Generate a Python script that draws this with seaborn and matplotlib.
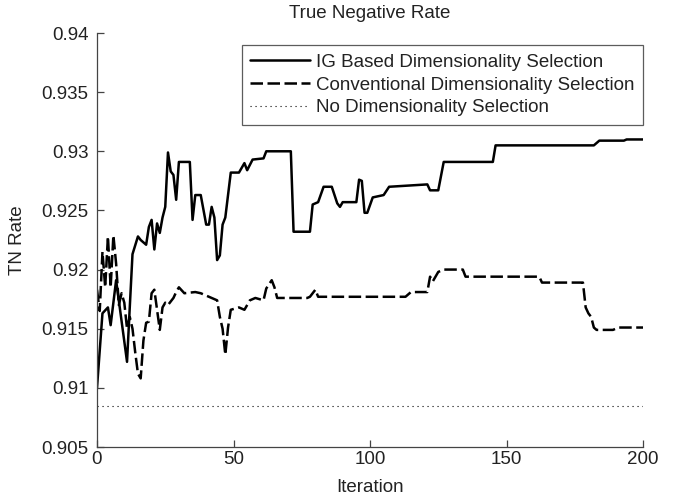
import numpy as np
import pandas as pd
import matplotlib
matplotlib.use("Agg")
import matplotlib.pyplot as plt
import seaborn as sns

# ---- data ----
ig_iter = [0, 2, 4, 5, 7, 11, 12, 13, 15, 16, 18, 19, 20, 21, 22, 23, 24, 25, 26, 27,
           28, 29, 30, 34, 35, 36, 38, 40, 41, 42, 43, 44, 45, 46, 47, 49, 52, 54, 55, 57,
           61, 62, 71, 72, 78, 79, 81, 83, 86, 88, 89, 90, 95, 96, 97, 98, 99, 101, 105, 107,
           121, 122, 125, 127, 145, 146, 182, 184, 193, 194, 200]
ig_rate = [0.9100, 0.9163, 0.9168, 0.9153, 0.9191, 0.9122, 0.9168, 0.9213, 0.9228, 0.9225,
           0.9221, 0.9236, 0.9242, 0.9217, 0.9239, 0.9231, 0.9244, 0.9253, 0.9299, 0.9283,
           0.9280, 0.9259, 0.9291, 0.9291, 0.9242, 0.9263, 0.9263, 0.9238, 0.9238, 0.9253,
           0.9244, 0.9208, 0.9212, 0.9238, 0.9244, 0.9282, 0.9282, 0.9290, 0.9284, 0.9293,
           0.9294, 0.9300, 0.9300, 0.9232, 0.9232, 0.9255, 0.9257, 0.9270, 0.9270, 0.9256,
           0.9253, 0.9257, 0.9257, 0.9276, 0.9275, 0.9248, 0.9248, 0.9261, 0.9263, 0.9270,
           0.9272, 0.9267, 0.9267, 0.9291, 0.9291, 0.9305, 0.9305, 0.9309, 0.9309, 0.9310,
           0.9310]

conv_iter = [0, 1, 2, 3, 4, 5, 6, 7, 8, 9, 10, 11, 12, 13, 14, 15, 16, 17, 18, 19,
             20, 21, 22, 23, 24, 25, 26, 28, 29, 30, 32, 36, 38, 41, 44, 45, 46, 47, 48, 49,
             52, 54, 56, 58, 61, 62, 64, 65, 66, 77, 78, 80, 81, 113, 115, 121, 122, 123, 125, 127,
             134, 135, 162, 163, 178, 179, 180, 181, 182, 183, 189, 191, 200]
conv_rate = [0.9183, 0.9165, 0.9215, 0.9185, 0.9228, 0.9185, 0.9229, 0.9205, 0.9170, 0.9180,
             0.9172, 0.9150, 0.9160, 0.9150, 0.9130, 0.9112, 0.9108, 0.9140, 0.9155, 0.9156,
             0.9180, 0.9183, 0.9166, 0.9149, 0.9168, 0.9172, 0.9170, 0.9176, 0.9181, 0.9185,
             0.9180, 0.9181, 0.9180, 0.9177, 0.9174, 0.9160, 0.9150, 0.9128, 0.9151, 0.9166,
             0.9168, 0.9166, 0.9174, 0.9176, 0.9174, 0.9184, 0.9191, 0.9185, 0.9176, 0.9176,
             0.9177, 0.9183, 0.9177, 0.9177, 0.9181, 0.9181, 0.9194, 0.9190, 0.9198, 0.9200,
             0.9200, 0.9194, 0.9194, 0.9189, 0.9189, 0.9168, 0.9163, 0.9160, 0.9151, 0.9149,
             0.9149, 0.9151, 0.9151]

none_iter = [0, 200]
none_rate = [0.9085, 0.9085]

series_names = ["IG Based Dimensionality Selection",
                "Conventional Dimensionality Selection",
                "No Dimensionality Selection"]
x_ticks = [0, 50, 100, 150, 200]
y_ticks = [0.905, 0.91, 0.915, 0.92, 0.925, 0.93, 0.935, 0.94]
y_tick_labels = ["0.905", "0.91", "0.915", "0.92", "0.925", "0.93", "0.935", "0.94"]

# ---- plot ----
sns.set_theme(style="white")
plt.rcParams["font.family"] = ["Liberation Sans", "DejaVu Sans"]

FS = 13.5
fig = plt.figure(figsize=(6.81, 5.0), dpi=100)
ax = fig.add_axes([97 / 681, 53 / 500, 546 / 681, 414 / 500])

sns.lineplot(x=ig_iter, y=ig_rate, ax=ax, color="black", linewidth=1.8,
             label=series_names[0], sort=False)
sns.lineplot(x=conv_iter, y=conv_rate, ax=ax, color="black", linewidth=1.8,
             label=series_names[1], sort=False)
ax.lines[-1].set_dashes([5.0, 1.8])
sns.lineplot(x=none_iter, y=none_rate, ax=ax, color="black", linewidth=0.8,
             label=series_names[2], sort=False)
ax.lines[-1].set_dashes([1.0, 3.5])

ax.set_xlim(0, 200)
ax.set_ylim(0.905, 0.94)
ax.set_xticks(x_ticks)
ax.set_xticklabels([str(t) for t in x_ticks])
ax.set_yticks(y_ticks)
ax.set_yticklabels(y_tick_labels)

for side in ["top", "right"]:
    ax.spines[side].set_visible(False)
for side in ["left", "bottom"]:
    ax.spines[side].set_color("#444444")
    ax.spines[side].set_linewidth(0.9)

ax.tick_params(axis="both", direction="in", length=5, width=0.9, color="#444444",
               labelsize=FS, labelcolor="#222222", left=True, bottom=True)
ax.tick_params(axis="y", pad=6)
ax.tick_params(axis="x", pad=3)

ax.set_title("True Negative Rate", fontsize=FS, color="#222222", pad=11)
ax.set_xlabel("Iteration", fontsize=FS, color="#222222", labelpad=8)
ax.set_ylabel("TN Rate", fontsize=FS, color="#222222", labelpad=11)

leg = ax.legend(loc="upper right", bbox_to_anchor=(1.0, 0.97), fontsize=FS,
                frameon=True, fancybox=False, edgecolor="#333333",
                handlelength=3.2, handletextpad=0.3, borderpad=0.45,
                labelspacing=0.3, borderaxespad=0.0)
leg.get_frame().set_linewidth(0.9)
for t in leg.get_texts():
    t.set_color("#222222")

fig.savefig("out.png", dpi=100, facecolor="white")
